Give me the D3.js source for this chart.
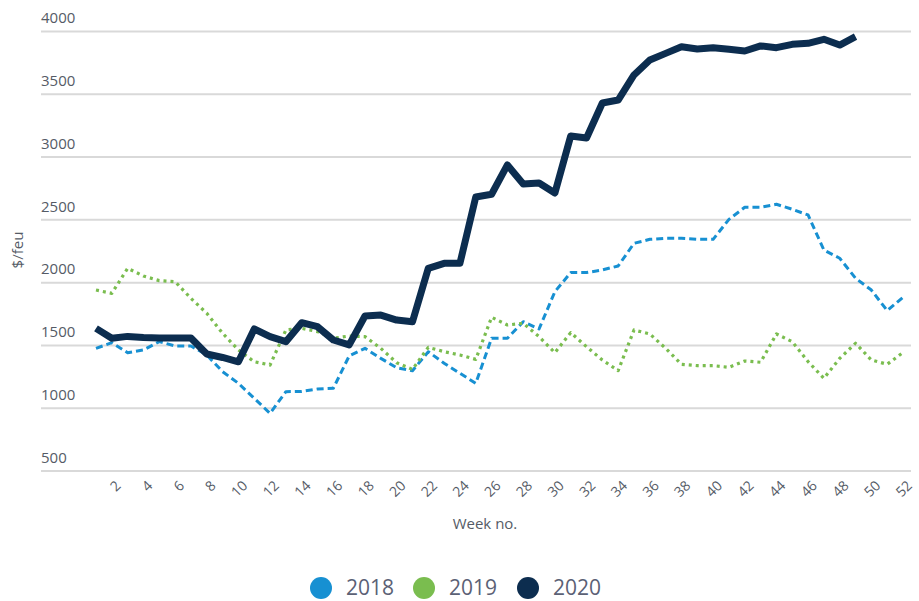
<!DOCTYPE html>
<html>
<head>
<meta charset="utf-8">
<script src="https://cdn.jsdelivr.net/npm/d3@7"></script>
<style>
body{margin:0;background:#fff;}
text{font-family:"Open Sans","Noto Sans",sans-serif;}
</style>
</head>
<body>
<div id="chart"></div>
<script>
var w=919;
var h=601;
var weeks=d3.range(1,53);
var s2018=[1473,1518,1438,1460,1526,1492,1492,1420,1287,1194,1075,955,1128,1130,1149,1155,1412,1473,1393,1319,1295,1446,1354,1274,1194,1553,
           1553,1685,1627,1924,2076,2076,2097,2129,2309,2341,2349,2349,2341,2341,2500,2596,2596,2620,2580,2535,2256,2190,2031,1937,1773,1879];
var s2019=[1937,1911,2110,2049,2012,2004,1871,1752,1593,1460,1366,1340,1619,1632,1606,1553,1571,1566,1473,1358,1305,1481,1446,1420,1385,1720,
           1659,1672,1566,1438,1598,1486,1380,1295,1619,1587,1473,1346,1335,1335,1322,1372,1362,1587,1526,1367,1234,1393,1513,1380,1346,1439];
var s2020=[1632,1553,1568,1560,1555,1555,1555,1428,1400,1366,1627,1566,1526,1677,1645,1539,1500,1730,1738,1698,1685,2110,2150,2150,2678,2700,
           2933,2782,2790,2710,3164,3148,3427,3450,3650,3769,3822,3875,3857,3867,3854,3841,3881,3867,3894,3902,3934,3888,3955];
var yTicks=[500,1000,1500,2000,2500,3000,3500,4000];
var xTicks=d3.range(2,53,2);
var series=[
  {name:"2018",values:s2018,color:"#1790d2",width:3,dash:"7,4"},
  {name:"2019",values:s2019,color:"#7abd4f",width:3.2,dash:"3,4"},
  {name:"2020",values:s2020,color:"#0c2d4f",width:7,dash:null}
];

var svg=d3.select("#chart")
  .append("svg")
  .attr("width",w)
  .attr("height",h);

var x=d3.scaleLinear().domain([1,52]).range([96,903]);
var y=d3.scaleLinear().domain([500,4000]).range([470.5,31]);

// gridlines + y labels
var yAxis=svg.append("g")
  .attr("transform","translate(41,0)")
  .call(d3.axisRight(y).tickValues(yTicks).tickSize(870).tickFormat(d3.format("d")));
yAxis.select(".domain").remove();
yAxis.selectAll("line").attr("stroke","#d9d9d9").attr("stroke-width",2);
yAxis.selectAll("text")
  .attr("x",0)
  .attr("dy","-0.55em")
  .attr("text-anchor","start")
  .attr("fill","#555b66")
  .style("font-size","15px");

// x labels
var xAxis=svg.append("g")
  .attr("transform","translate(0,473)")
  .call(d3.axisBottom(x).tickValues(xTicks).tickSize(0));
xAxis.select(".domain").remove();
xAxis.selectAll("text")
  .attr("fill","#555b66")
  .style("font-size","14px")
  .attr("text-anchor","end")
  .attr("transform","translate(6,10) rotate(-45)")
  .attr("dy","0.35em")
  .attr("y",0);

svg.append("text")
  .attr("x",485)
  .attr("y",529)
  .attr("text-anchor","middle")
  .attr("fill","#555b66")
  .style("font-size","15px")
  .text("Week no.");

svg.append("text")
  .attr("transform","translate(23,250) rotate(-90)")
  .attr("text-anchor","middle")
  .attr("fill","#555b66")
  .style("font-size","15px")
  .text("$/feu");

var line=d3.line()
  .x(function(d,i){return x(weeks[i]);})
  .y(function(d){return y(d);});

svg.selectAll("path.series")
  .data(series)
  .enter()
  .append("path")
  .attr("class","series")
  .attr("d",function(d){return line(d.values);})
  .attr("fill","none")
  .attr("stroke",function(d){return d.color;})
  .attr("stroke-width",function(d){return d.width;})
  .attr("stroke-dasharray",function(d){return d.dash;})
  .attr("stroke-linejoin","round");

// legend
var legendX=[321,424,528];
var legend=svg.selectAll("g.legend")
  .data(series)
  .enter()
  .append("g")
  .attr("class","legend")
  .attr("transform",function(d,i){return "translate("+legendX[i]+",588)";});
legend.append("circle")
  .attr("r",11)
  .attr("fill",function(d){return d.color;});
legend.append("text")
  .attr("x",25)
  .attr("dy","0.35em")
  .attr("fill","#5b6175")
  .style("font-size","21px")
  .text(function(d){return d.name;});
</script>
</body>
</html>
